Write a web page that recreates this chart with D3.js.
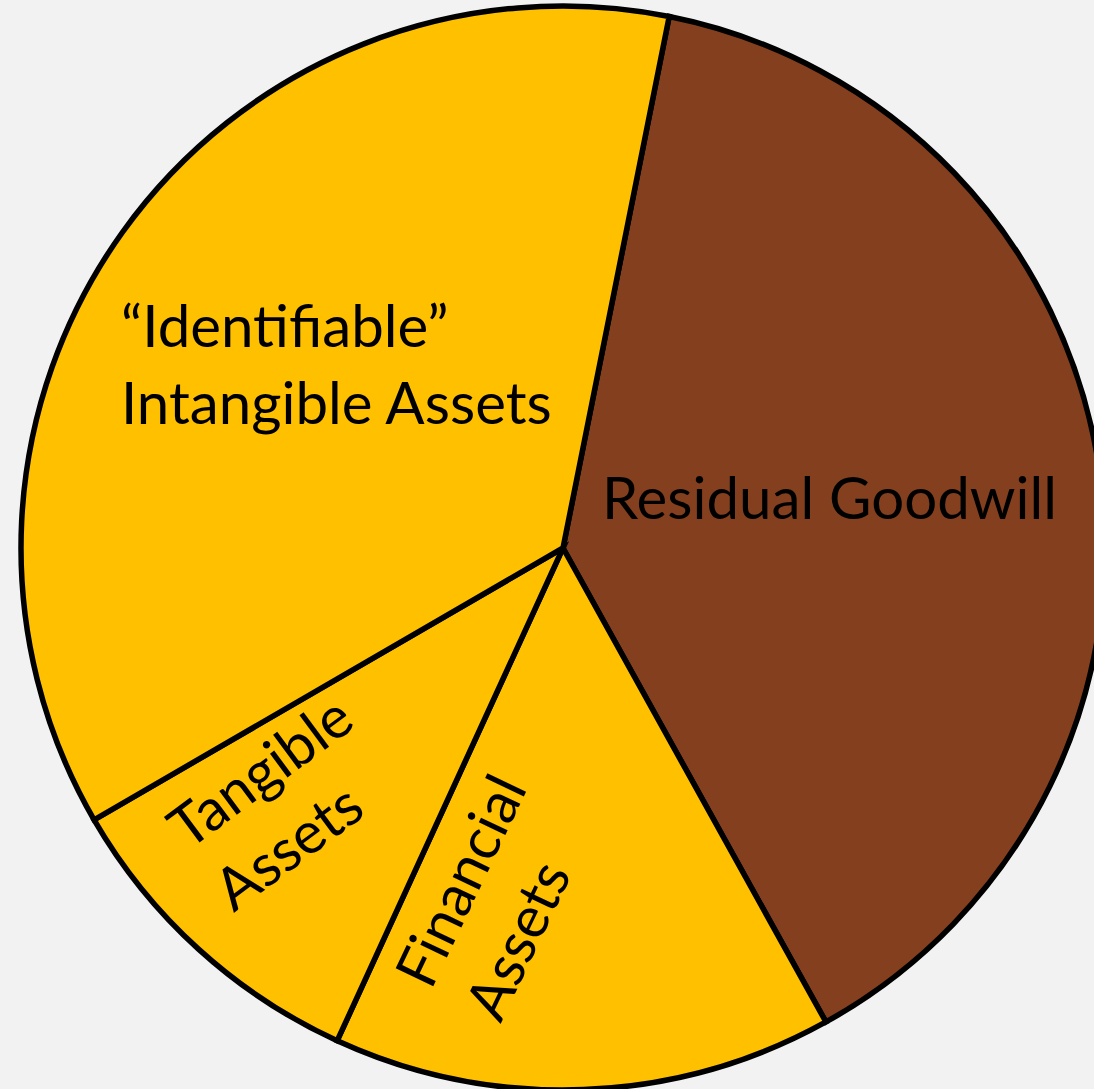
<!DOCTYPE html>
<html>
<head>
<meta charset="utf-8">
<script src="https://cdn.jsdelivr.net/npm/d3@7"></script>
<style>
  html, body { margin: 0; padding: 0; background: #F2F2F2; }
  svg { display: block; }
</style>
</head>
<body>
<div id="chart"></div>
<script>
// ---- data ----
const categories = ["Residual Goodwill", "Financial Assets", "Tangible Assets", "“Identifiable” Intangible Assets"];
const values = [38.8, 14.9, 9.8, 36.5];
const colors = ["#843F1F", "#FFC000", "#FFC000", "#FFC000"];
const labelLines = [
  ["Residual Goodwill"],
  ["Financial", "Assets"],
  ["Tangible", "Assets"],
  ["“Identifiable”", "Intangible Assets"]
];

// ---- layout (label anchors relative to pie centre, rotation in degrees) ----
const labelLayout = [
  { dx: 39,   dy: -29, rot: 0 },
  { dx: -132, dy: 443, rot: -64.5 },
  { dx: -375, dy: 303, rot: -36.5 },
  { dx: -442, dy: -201, rot: 0 }
];

const W = 1094, H = 1089;
const cx = 563, cy = 548, R = 542;
const deg = Math.PI / 180;
const startDeg = 11.3;

const svg = d3.select("#chart").append("svg")
  .attr("width", W).attr("height", H);
svg.append("rect").attr("width", W).attr("height", H).attr("fill", "#F2F2F2");

const pie = d3.pie().sort(null).value(d => d)
  .startAngle(startDeg * deg).endAngle((startDeg + 360) * deg);
const arc = d3.arc().innerRadius(0).outerRadius(R);

const g = svg.append("g").attr("transform", `translate(${cx},${cy})`);
g.selectAll("path.slice")
  .data(pie(values))
  .join("path")
  .attr("class", "slice")
  .attr("d", arc)
  .attr("fill", (d, i) => colors[i])
  .attr("stroke", "#000")
  .attr("stroke-width", 5.5)
  .attr("stroke-linejoin", "miter");

// font size fitted so that "Residual Goodwill" spans ~455px
const fontFamily = "Lato, 'Open Sans', sans-serif";
const probe = svg.append("text").attr("font-family", fontFamily).attr("font-size", 100)
  .text(labelLines[0][0]);
const pw = probe.node().getComputedTextLength();
probe.remove();
const fontSize = 100 * 455 / pw;
const lineH = 77;

labelLines.forEach((lines, i) => {
  const L = labelLayout[i];
  const lg = g.append("g")
    .attr("transform", `translate(${L.dx},${L.dy}) rotate(${L.rot})`);
  lg.selectAll("text")
    .data(lines)
    .join("text")
    .attr("x", 0)
    .attr("y", (d, j) => j * lineH)
    .attr("font-family", fontFamily)
    .attr("font-size", fontSize)
    .attr("fill", "#000")
    .attr("text-anchor", "start")
    .text(d => d);
});
</script>
</body>
</html>
